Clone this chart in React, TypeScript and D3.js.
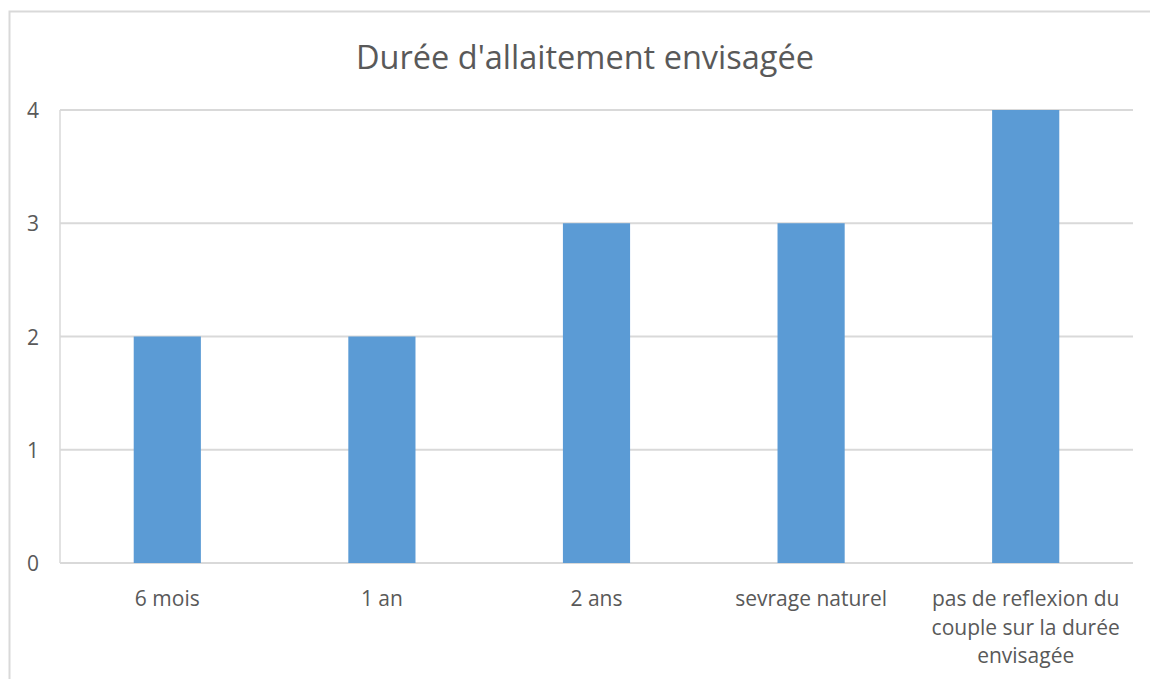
import * as d3 from "d3";

// data
const categories = [
  ["6 mois"],
  ["1 an"],
  ["2 ans"],
  ["sevrage naturel"],
  ["pas de reflexion du", "couple sur la durée", "envisagée"],
];
const values = [2, 2, 3, 3, 4];
const yTicks = [0, 1, 2, 3, 4];

const W = 1150;
const H = 679;
const m = { top: 110, right: 17, bottom: 116, left: 60 };
const FONT = "'Open Sans', 'Liberation Sans', sans-serif";
const TEXT = "#595959";
const GRID = "#d9d9d9";
const BAR = "#5B9BD5";

export default function App() {
  const w = W - m.left - m.right;
  const h = H - m.top - m.bottom;

  const x = d3
    .scaleBand<number>()
    .domain(d3.range(categories.length))
    .range([0, w])
    .paddingInner(0.687)
    .paddingOuter(0.3435);
  const y = d3.scaleLinear().domain([0, 4]).range([h, 0]);
  const step = w / categories.length;

  return (
    <svg
      width={W}
      height={H}
      style={{ position: "absolute", left: 0, top: 0 }}
      fontFamily={FONT}
    >
      <rect x={0} y={0} width={W} height={H} fill="#fff" />
      {/* outer chart border */}
      <rect
        x={9.5}
        y={11.5}
        width={W}
        height={H}
        fill="none"
        stroke={GRID}
        strokeWidth={2}
      />
      <text
        x={585}
        y={56}
        textAnchor="middle"
        dominantBaseline="central"
        fontSize={32.5}
        fill={TEXT}
      >
        Durée d'allaitement envisagée
      </text>
      <g transform={`translate(${m.left},${m.top})`}>
        {/* gridlines */}
        {yTicks.map((t) => (
          <line
            key={t}
            x1={0}
            x2={w}
            y1={y(t)}
            y2={y(t)}
            stroke={GRID}
            strokeWidth={2}
          />
        ))}
        <line x1={0} x2={0} y1={0} y2={h} stroke={GRID} strokeWidth={1.5} />
        {/* y tick labels */}
        {yTicks.map((t) => (
          <text
            key={t}
            x={-27}
            y={y(t)}
            textAnchor="middle"
            dominantBaseline="central"
            fontSize={21}
            fill={TEXT}
          >
            {t}
          </text>
        ))}
        {/* bars */}
        {values.map((v, i) => (
          <rect
            key={i}
            x={x(i)}
            y={y(v)}
            width={x.bandwidth()}
            height={h - y(v)}
            fill={BAR}
          />
        ))}
        {/* category labels */}
        {categories.map((lines, i) => (
          <text
            key={i}
            x={step * i + step / 2}
            y={h + 35}
            textAnchor="middle"
            dominantBaseline="central"
            fontSize={21}
            fill={TEXT}
          >
            {lines.map((l, j) => (
              <tspan key={j} x={step * i + step / 2} dy={j === 0 ? 0 : 28.5}>
                {l}
              </tspan>
            ))}
          </text>
        ))}
      </g>
    </svg>
  );
}
